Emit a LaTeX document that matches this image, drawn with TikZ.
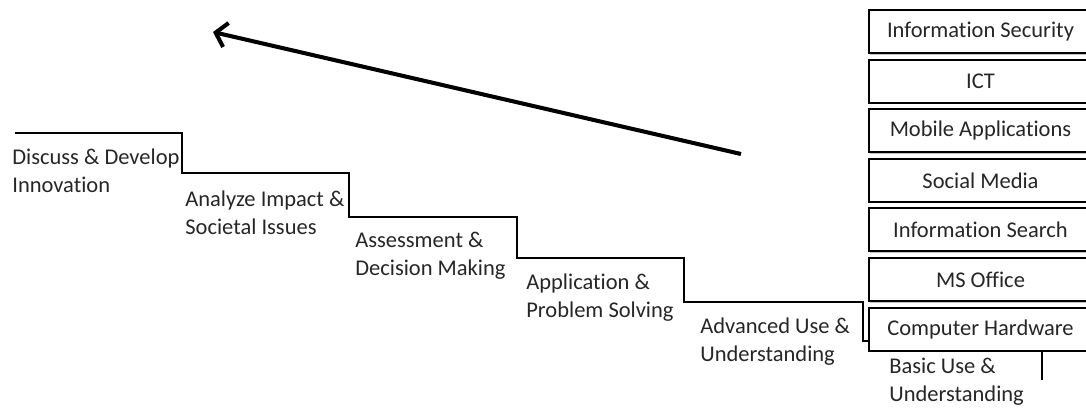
\documentclass[tikz,border=0pt]{standalone}
\usepackage{fontspec}
\setmainfont[Ligatures=NoCommon]{Carlito}
\usetikzlibrary{positioning,arrows.meta,shadows}

\begin{document}
\begin{tikzpicture}[x=0.02cm,y=-0.02cm,
  stair/.style={line width=1.1pt,line join=miter},
  level/.style={anchor=base west,align=left,inner sep=0pt,
    font=\fontsize{12.8}{15.4}\selectfont,text=black!85},
  topic/.style={draw,line width=1.2pt,fill=white,inner sep=0pt,
    minimum width=4.46cm,minimum height=0.86cm,
    font=\fontsize{12.8}{15.4}\selectfont,text=black!85,
    drop shadow={shadow xshift=0.5pt,shadow yshift=-0.9pt,opacity=0.5}}]
\useasboundingbox (0,0) rectangle (1086,407);
%% steps
\draw[stair] (15,133) -| (182,173) -| (349,217) -| (517,258)
  -| (684,302) -| (863,341) -| (1042,380);
% base = baseline of the second line
\node[level] (discuss)  at (12,192)  {Discuss \& Develop\\Innovation};
\node[level] (analyze)  at (185,234) {Analyze Impact \&\\Societal Issues};
\node[level] (assess)   at (355,275) {Assessment \&\\Decision Making};
\node[level] (apply)    at (526,317) {Application \&\\Problem Solving};
\node[level] (advanced) at (700,361) {Advanced Use \&\\Understanding};
\node[level] (basic)    at (889,401) {Basic Use \&\\Understanding};
%% topics
\node[topic] (infosec) at (980.5,31.5) {Information Security};
\node[topic, below=0.09cm of infosec] (ict) {ICT};
\node[topic, below=0.09cm of ict] (mobile) {Mobile Applications};
\node[topic, below=0.09cm of mobile] (social) {Social Media};
\node[topic, below=0.09cm of social] (search) {Information Search};
\node[topic, below=0.09cm of search] (msoffice) {MS Office};
\node[topic, below=0.09cm of msoffice] (hardware) {Computer Hardware};
%% progress arrow
\coordinate (tail) at (741,154);
\coordinate (head) at (213,32);
\draw[line width=2.3pt,-{Straight Barb[length=6pt,width=14pt]}] (tail) -- (head);
\end{tikzpicture}
\end{document}
